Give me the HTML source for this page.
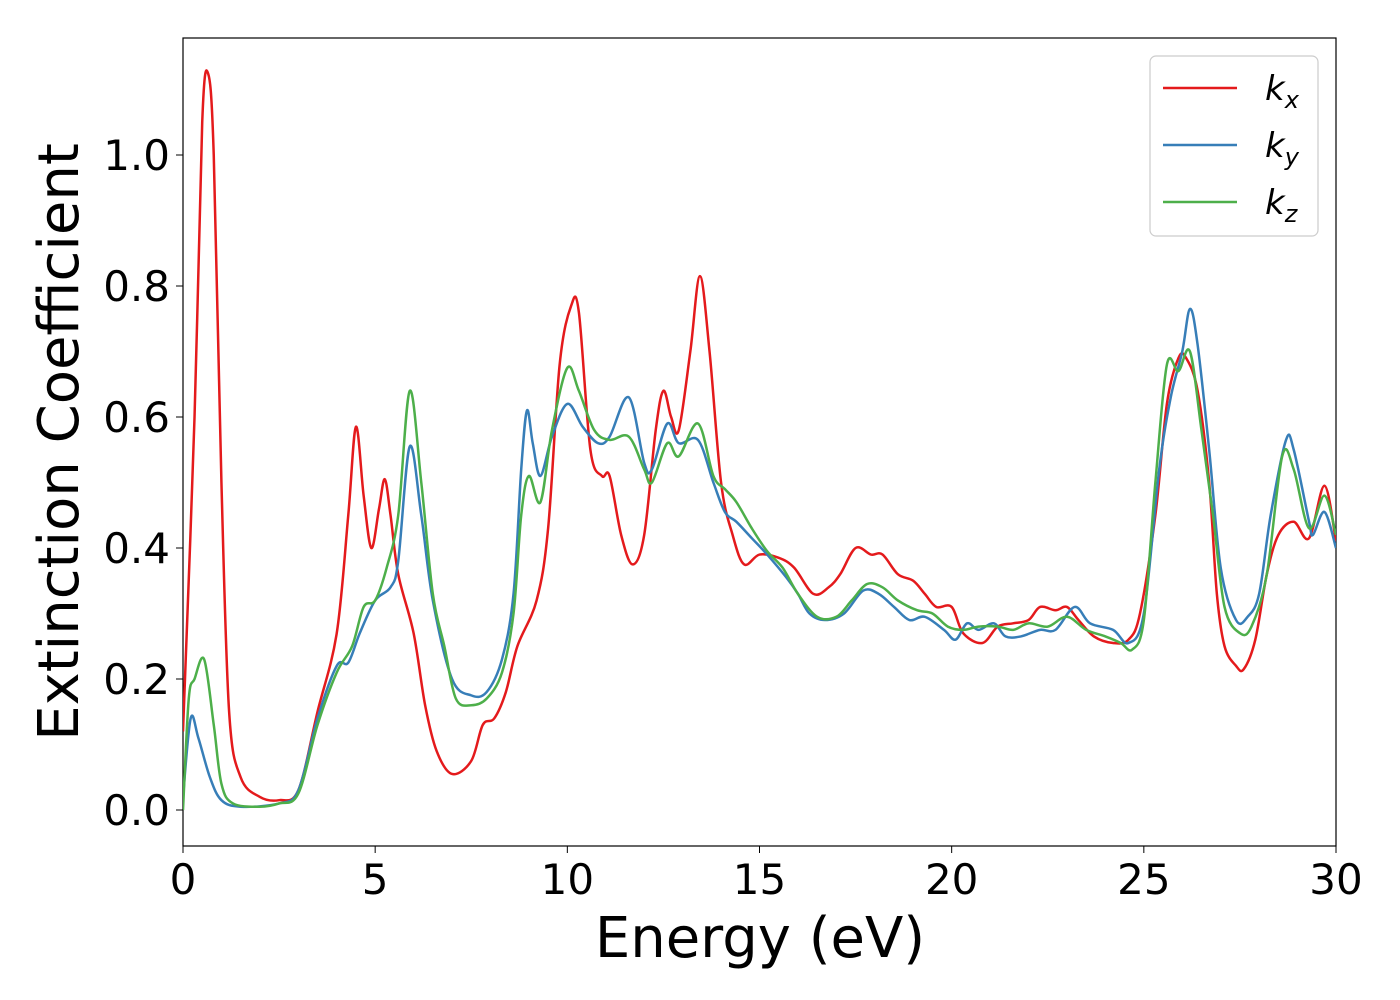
<!DOCTYPE html>
<html><head><meta charset="utf-8"><style>
body{margin:0;background:#fff;}
svg{display:block;font-family:"DejaVu Sans","Liberation Sans",sans-serif;}
</style></head><body>
<svg id="chart" width="1400" height="1000">
<rect x="183" y="38" width="1153" height="808" fill="none" stroke="#000" stroke-width="1.2"/>
<g id="series"></g>
<g id="axes"></g>
<text x="760" y="957" font-size="56" text-anchor="middle">Energy (eV)</text>
<text transform="translate(78,442) rotate(-90)" font-size="56" text-anchor="middle">Extinction Coefficient</text>
<g>
<rect x="1150" y="56" width="168" height="180" rx="6" fill="#fff" stroke="#ccc" stroke-width="1.2"/>
<line x1="1163" y1="88" x2="1237" y2="88" stroke="#e41a1c" stroke-width="2.5"/>
<text x="1265" y="100" font-size="34" font-style="italic">k<tspan font-size="24" dy="8">x</tspan></text>
<line x1="1163" y1="145" x2="1237" y2="145" stroke="#377eb8" stroke-width="2.5"/>
<text x="1265" y="157" font-size="34" font-style="italic">k<tspan font-size="24" dy="8">y</tspan></text>
<line x1="1163" y1="202" x2="1237" y2="202" stroke="#4daf4a" stroke-width="2.5"/>
<text x="1265" y="214" font-size="34" font-style="italic">k<tspan font-size="24" dy="8">z</tspan></text>
</g>
</svg>
<script>
const xTicks=[0,5,10,15,20,25,30];
const yTicks=[0.0,0.2,0.4,0.6,0.8,1.0];
const kxE=[0,0.3,0.5,0.65,0.8,1.0,1.2,1.5,2,2.5,3,3.5,4,4.3,4.5,4.7,4.9,5.1,5.25,5.4,5.6,6,6.3,6.6,7,7.5,7.8,8.1,8.4,8.7,9.2,9.5,9.8,10.1,10.3,10.6,10.9,11.1,11.4,11.7,12.0,12.3,12.5,12.7,12.9,13.2,13.45,13.7,14.0,14.3,14.6,15,15.5,15.9,16.4,16.8,17.1,17.5,17.9,18.2,18.6,19,19.3,19.6,20,20.3,20.8,21.2,21.6,22,22.3,22.7,23,23.3,23.7,24.2,24.6,24.9,25.3,25.6,25.9,26.1,26.4,26.7,26.9,27.1,27.4,27.6,27.9,28.2,28.5,28.9,29.3,29.7,30];
const kxV=[0.12,0.6,1.05,1.125,1.0,0.5,0.15,0.05,0.02,0.015,0.03,0.15,0.27,0.45,0.585,0.48,0.40,0.46,0.505,0.45,0.36,0.27,0.16,0.09,0.055,0.075,0.13,0.14,0.18,0.25,0.32,0.43,0.68,0.77,0.76,0.55,0.51,0.51,0.42,0.375,0.42,0.58,0.64,0.60,0.58,0.70,0.815,0.70,0.50,0.42,0.375,0.39,0.385,0.37,0.33,0.34,0.36,0.40,0.39,0.39,0.36,0.35,0.33,0.31,0.31,0.27,0.255,0.28,0.285,0.29,0.31,0.305,0.31,0.29,0.265,0.255,0.26,0.30,0.45,0.62,0.69,0.69,0.64,0.50,0.33,0.25,0.22,0.215,0.26,0.36,0.42,0.44,0.415,0.495,0.41];
const kyE=[0,0.2,0.4,0.7,1.0,1.5,2.5,3,3.5,4,4.3,4.6,5,5.4,5.6,5.9,6.2,6.5,7,7.5,7.9,8.3,8.6,8.8,8.95,9.1,9.3,9.6,10.0,10.4,10.8,11.1,11.6,12.0,12.2,12.6,12.9,13.4,13.8,14.1,14.4,14.8,15.2,15.7,16,16.3,16.7,17.2,17.7,18.1,18.5,18.9,19.3,19.8,20.1,20.4,20.7,21.1,21.4,21.8,22.3,22.7,23.2,23.6,24.2,24.6,25,25.4,25.7,26.0,26.2,26.4,26.7,27,27.4,27.7,28.0,28.3,28.7,28.9,29.3,29.4,29.7,30];
const kyV=[0.02,0.14,0.11,0.05,0.015,0.005,0.01,0.03,0.14,0.22,0.225,0.27,0.32,0.34,0.38,0.555,0.45,0.32,0.20,0.175,0.18,0.23,0.33,0.52,0.61,0.56,0.51,0.57,0.62,0.585,0.56,0.57,0.63,0.53,0.52,0.59,0.56,0.565,0.50,0.455,0.44,0.415,0.39,0.355,0.33,0.30,0.29,0.30,0.335,0.33,0.31,0.29,0.295,0.275,0.26,0.285,0.275,0.285,0.265,0.265,0.275,0.275,0.31,0.285,0.275,0.255,0.30,0.52,0.63,0.70,0.765,0.71,0.55,0.37,0.29,0.295,0.33,0.45,0.565,0.55,0.44,0.42,0.455,0.40];
const kzE=[0,0.15,0.3,0.55,0.8,1.0,1.3,2,2.5,3,3.5,4,4.4,4.7,5,5.3,5.6,5.9,6.2,6.5,6.8,7.1,7.5,7.9,8.3,8.6,8.8,9.0,9.3,9.6,10.0,10.3,10.7,11.1,11.6,12.0,12.2,12.6,12.9,13.4,13.8,14.1,14.4,14.8,15.2,15.6,16,16.5,17,17.4,17.8,18.2,18.6,19.1,19.5,19.9,20.3,20.7,21.2,21.6,22,22.5,23,23.5,24,24.4,24.7,25,25.3,25.6,25.9,26.2,26.5,26.8,27.1,27.5,27.8,28.2,28.6,28.9,29.3,29.7,30];
const kzV=[0.0,0.17,0.2,0.23,0.13,0.04,0.01,0.005,0.01,0.025,0.13,0.21,0.25,0.31,0.32,0.37,0.45,0.64,0.5,0.33,0.25,0.17,0.16,0.17,0.21,0.30,0.45,0.51,0.47,0.58,0.675,0.64,0.58,0.565,0.57,0.52,0.5,0.56,0.54,0.59,0.51,0.49,0.47,0.43,0.395,0.37,0.33,0.295,0.295,0.32,0.345,0.34,0.32,0.305,0.3,0.28,0.275,0.28,0.28,0.275,0.285,0.28,0.295,0.275,0.265,0.255,0.245,0.29,0.5,0.68,0.67,0.70,0.58,0.45,0.31,0.27,0.28,0.36,0.54,0.52,0.43,0.48,0.42];

const NS='http://www.w3.org/2000/svg';
const X0=183,X1=1336,YB=810,YS=655;
function xs(e){return X0+(e/30)*(X1-X0);}
function ys(v){return YB-v*YS;}
function pathFor(E,V){
  const p=E.map((e,i)=>[xs(e),ys(V[i])]);
  let d='M'+p[0][0]+','+p[0][1];
  for(let i=0;i<p.length-1;i++){
    const a=p[Math.max(0,i-1)],b=p[i],c=p[i+1],n=p[Math.min(p.length-1,i+2)];
    const c1=[b[0]+(c[0]-a[0])/6,b[1]+(c[1]-a[1])/6];
    const c2=[c[0]-(n[0]-b[0])/6,c[1]-(n[1]-b[1])/6];
    d+=' C'+c1+' '+c2+' '+c;
  }
  return d;
}
const g=document.getElementById('series');
const defs=document.createElementNS(NS,'clipPath');defs.id='clip';
const cr=document.createElementNS(NS,'rect');
cr.setAttribute('x',X0);cr.setAttribute('y',38);cr.setAttribute('width',X1-X0);cr.setAttribute('height',808);
defs.appendChild(cr);document.getElementById('chart').appendChild(defs);
[[kxE,kxV,'#e41a1c','line-kx'],[kyE,kyV,'#377eb8','line-ky'],[kzE,kzV,'#4daf4a','line-kz']].forEach(s=>{
  const el=document.createElementNS(NS,'path');
  el.setAttribute('d',pathFor(s[0],s[1]));
  el.setAttribute('fill','none');el.setAttribute('stroke',s[2]);el.setAttribute('stroke-width','2.5');
  el.setAttribute('clip-path','url(#clip)');
  
  
  g.appendChild(el);
});
const ax=document.getElementById('axes');
xTicks.forEach(t=>{
  const l=document.createElementNS(NS,'line');
  l.setAttribute('x1',xs(t));l.setAttribute('x2',xs(t));l.setAttribute('y1',846);l.setAttribute('y2',853);l.setAttribute('stroke','#000');
  
  
  ax.appendChild(l);
  const tx=document.createElementNS(NS,'text');
  tx.setAttribute('x',xs(t));tx.setAttribute('y',894);tx.setAttribute('font-size','42');tx.setAttribute('text-anchor','middle');
  tx.textContent=t;
  
  
  ax.appendChild(tx);
});
yTicks.forEach(t=>{
  const l=document.createElementNS(NS,'line');
  l.setAttribute('x1',176);l.setAttribute('x2',183);l.setAttribute('y1',ys(t));l.setAttribute('y2',ys(t));l.setAttribute('stroke','#000');
  
  
  ax.appendChild(l);
  const tx=document.createElementNS(NS,'text');
  tx.setAttribute('x',170);tx.setAttribute('y',ys(t)+15);tx.setAttribute('font-size','42');tx.setAttribute('text-anchor','end');
  tx.textContent=t.toFixed(1);
  
  
  ax.appendChild(tx);
});
</script>
</body></html>
